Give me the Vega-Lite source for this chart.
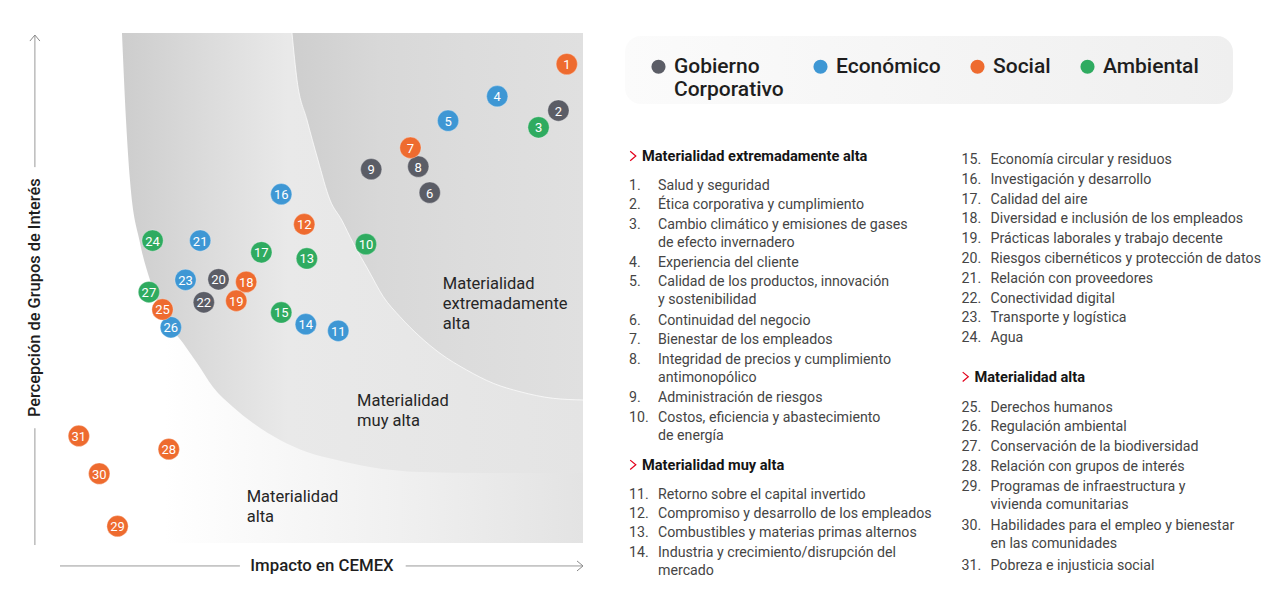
{
  "$schema": "https://vega.github.io/schema/vega-lite/v6.json",
  "width": 1280,
  "height": 613,
  "padding": 0,
  "autosize": "none",
  "background": "white",
  "config": {"view": {"stroke": null}, "font": "Roboto", "text": {"font": "Roboto"}},
  "datasets": {
    "temas": [
      {"n": 1, "tema": "Salud y seguridad", "cat": "Social", "impacto": 96.9, "percepcion": 93.9, "columna": "izquierda", "renglon": 1.5},
      {"n": 2, "tema": "Ética corporativa y cumplimiento", "cat": "Gobierno Corporativo", "impacto": 95.3, "percepcion": 84.8, "columna": "izquierda", "renglon": 2.5},
      {"n": 3, "tema": "Cambio climático y emisiones de gases\nde efecto invernadero", "cat": "Ambiental", "impacto": 91.5, "percepcion": 81.5, "columna": "izquierda", "renglon": 3.5},
      {"n": 4, "tema": "Experiencia del cliente", "cat": "Económico", "impacto": 83.6, "percepcion": 87.6, "columna": "izquierda", "renglon": 5.5},
      {"n": 5, "tema": "Calidad de los productos, innovación\ny sostenibilidad", "cat": "Económico", "impacto": 74.2, "percepcion": 82.8, "columna": "izquierda", "renglon": 6.5},
      {"n": 6, "tema": "Continuidad del negocio", "cat": "Gobierno Corporativo", "impacto": 70.7, "percepcion": 68.7, "columna": "izquierda", "renglon": 8.5},
      {"n": 7, "tema": "Bienestar de los empleados", "cat": "Social", "impacto": 67.0, "percepcion": 77.5, "columna": "izquierda", "renglon": 9.5},
      {"n": 8, "tema": "Integridad de precios y cumplimiento\nantimonopólico", "cat": "Gobierno Corporativo", "impacto": 68.5, "percepcion": 73.8, "columna": "izquierda", "renglon": 10.5},
      {"n": 9, "tema": "Administración de riesgos", "cat": "Gobierno Corporativo", "impacto": 59.5, "percepcion": 73.3, "columna": "izquierda", "renglon": 12.5},
      {"n": 10, "tema": "Costos, eficiencia y abastecimiento\nde energía", "cat": "Ambiental", "impacto": 58.5, "percepcion": 58.6, "columna": "izquierda", "renglon": 13.5},
      {"n": 11, "tema": "Retorno sobre el capital invertido", "cat": "Económico", "impacto": 53.2, "percepcion": 41.6, "columna": "izquierda", "renglon": 17.5},
      {"n": 12, "tema": "Compromiso y desarrollo de los empleados", "cat": "Social", "impacto": 46.7, "percepcion": 62.5, "columna": "izquierda", "renglon": 18.5},
      {"n": 13, "tema": "Combustibles y materias primas alternos", "cat": "Ambiental", "impacto": 47.2, "percepcion": 55.8, "columna": "izquierda", "renglon": 19.5},
      {"n": 14, "tema": "Industria y crecimiento/disrupción del\nmercado", "cat": "Económico", "impacto": 47.0, "percepcion": 42.9, "columna": "izquierda", "renglon": 20.5},
      {"n": 15, "tema": "Economía circular y residuos", "cat": "Ambiental", "impacto": 42.3, "percepcion": 45.2, "columna": "derecha", "renglon": 0},
      {"n": 16, "tema": "Investigación y desarrollo", "cat": "Económico", "impacto": 42.3, "percepcion": 68.4, "columna": "derecha", "renglon": 1},
      {"n": 17, "tema": "Calidad del aire", "cat": "Ambiental", "impacto": 38.5, "percepcion": 57.0, "columna": "derecha", "renglon": 2},
      {"n": 18, "tema": "Diversidad e inclusión de los empleados", "cat": "Social", "impacto": 35.6, "percepcion": 51.2, "columna": "derecha", "renglon": 3},
      {"n": 19, "tema": "Prácticas laborales y trabajo decente", "cat": "Social", "impacto": 33.7, "percepcion": 47.5, "columna": "derecha", "renglon": 4},
      {"n": 20, "tema": "Riesgos cibernéticos y protección de datos", "cat": "Gobierno Corporativo", "impacto": 30.3, "percepcion": 51.7, "columna": "derecha", "renglon": 5},
      {"n": 21, "tema": "Relación con proveedores", "cat": "Económico", "impacto": 26.8, "percepcion": 59.3, "columna": "derecha", "renglon": 6},
      {"n": 22, "tema": "Conectividad digital", "cat": "Gobierno Corporativo", "impacto": 27.5, "percepcion": 47.2, "columna": "derecha", "renglon": 7},
      {"n": 23, "tema": "Transporte y logística", "cat": "Económico", "impacto": 24.0, "percepcion": 51.6, "columna": "derecha", "renglon": 8},
      {"n": 24, "tema": "Agua", "cat": "Ambiental", "impacto": 17.7, "percepcion": 59.3, "columna": "derecha", "renglon": 9},
      {"n": 25, "tema": "Derechos humanos", "cat": "Social", "impacto": 19.6, "percepcion": 45.8, "columna": "derecha", "renglon": 12.5},
      {"n": 26, "tema": "Regulación ambiental", "cat": "Económico", "impacto": 21.2, "percepcion": 42.3, "columna": "derecha", "renglon": 13.5},
      {"n": 27, "tema": "Conservación de la biodiversidad", "cat": "Ambiental", "impacto": 17.0, "percepcion": 49.2, "columna": "derecha", "renglon": 14.5},
      {"n": 28, "tema": "Relación con grupos de interés", "cat": "Social", "impacto": 20.8, "percepcion": 18.4, "columna": "derecha", "renglon": 15.5},
      {"n": 29, "tema": "Programas de infraestructura y\nvivienda comunitarias", "cat": "Social", "impacto": 11.0, "percepcion": 3.3, "columna": "derecha", "renglon": 16.5},
      {"n": 30, "tema": "Habilidades para el empleo y bienestar\nen las comunidades", "cat": "Social", "impacto": 7.5, "percepcion": 13.6, "columna": "derecha", "renglon": 18.5},
      {"n": 31, "tema": "Pobreza e injusticia social", "cat": "Social", "impacto": 3.6, "percepcion": 21.0, "columna": "derecha", "renglon": 20.5}
    ],
    "niveles": [
      {"nivel": "Materialidad extremadamente alta", "etiqueta": "Materialidad\nextremadamente\nalta", "impacto": 73.2, "percepcion": 49.9, "columna": "izquierda", "renglon": 0},
      {"nivel": "Materialidad muy alta", "etiqueta": "Materialidad\nmuy alta", "impacto": 56.8, "percepcion": 26.9, "columna": "izquierda", "renglon": 16},
      {"nivel": "Materialidad alta", "etiqueta": "Materialidad\nalta", "impacto": 35.7, "percepcion": 8.0, "columna": "derecha", "renglon": 11}
    ],
    "curvas": [
      {"frontera": "muy alta", "impacto": 11.85, "percepcion": 100},
      {"frontera": "muy alta", "impacto": 12.62, "percepcion": 82.94},
      {"frontera": "muy alta", "impacto": 13.38, "percepcion": 71.18},
      {"frontera": "muy alta", "impacto": 15.3, "percepcion": 58.82},
      {"frontera": "muy alta", "impacto": 17.21, "percepcion": 51.57},
      {"frontera": "muy alta", "impacto": 19.69, "percepcion": 44.71},
      {"frontera": "muy alta", "impacto": 23.52, "percepcion": 39.22},
      {"frontera": "muy alta", "impacto": 26.2, "percepcion": 35.29},
      {"frontera": "muy alta", "impacto": 29.25, "percepcion": 30.59},
      {"frontera": "muy alta", "impacto": 33.08, "percepcion": 26.67},
      {"frontera": "muy alta", "impacto": 36.9, "percepcion": 23.53},
      {"frontera": "muy alta", "impacto": 42.07, "percepcion": 20.2},
      {"frontera": "muy alta", "impacto": 47.23, "percepcion": 17.84},
      {"frontera": "muy alta", "impacto": 52.96, "percepcion": 16.27},
      {"frontera": "muy alta", "impacto": 59.27, "percepcion": 14.9},
      {"frontera": "muy alta", "impacto": 68.83, "percepcion": 13.92},
      {"frontera": "muy alta", "impacto": 81.64, "percepcion": 13.73},
      {"frontera": "muy alta", "impacto": 100, "percepcion": 13.73},
      {"frontera": "extremadamente alta", "impacto": 44.36, "percepcion": 100},
      {"frontera": "extremadamente alta", "impacto": 45.32, "percepcion": 90.78},
      {"frontera": "extremadamente alta", "impacto": 47.23, "percepcion": 82.94},
      {"frontera": "extremadamente alta", "impacto": 49.33, "percepcion": 75.1},
      {"frontera": "extremadamente alta", "impacto": 51.63, "percepcion": 67.25},
      {"frontera": "extremadamente alta", "impacto": 53.86, "percepcion": 63.33},
      {"frontera": "extremadamente alta", "impacto": 56.08, "percepcion": 58.76},
      {"frontera": "extremadamente alta", "impacto": 58.95, "percepcion": 53.53},
      {"frontera": "extremadamente alta", "impacto": 61.82, "percepcion": 48.29},
      {"frontera": "extremadamente alta", "impacto": 65.01, "percepcion": 44.37},
      {"frontera": "extremadamente alta", "impacto": 68.83, "percepcion": 40.45},
      {"frontera": "extremadamente alta", "impacto": 72.66, "percepcion": 37.2},
      {"frontera": "extremadamente alta", "impacto": 77.76, "percepcion": 33.92},
      {"frontera": "extremadamente alta", "impacto": 82.85, "percepcion": 31.31},
      {"frontera": "extremadamente alta", "impacto": 87.95, "percepcion": 29.67},
      {"frontera": "extremadamente alta", "impacto": 94.32, "percepcion": 28.37},
      {"frontera": "extremadamente alta", "impacto": 100, "percepcion": 28.04}
    ]
  },
  "layer": [
    {
      "layer": [
        {
          "data": {"values": [{}]},
          "mark": {"type": "rect", "fill": {"gradient": "linear", "x1": 0, "y1": 0, "x2": 1, "y2": 0, "stops": [{"offset": 0, "color": "#ffffff"}, {"offset": 0.2, "color": "#ffffff"}, {"offset": 0.65, "color": "#f0f0f0"}, {"offset": 1, "color": "#e3e3e3"}]}},
          "encoding": {
            "x": {"datum": 0, "type": "quantitative", "scale": {"domain": [0, 100], "range": [60, 583], "nice": false}, "axis": null},
            "x2": {"datum": 100},
            "y": {"datum": 0, "type": "quantitative", "scale": {"domain": [0, 100], "range": [543, 33], "nice": false}, "axis": null},
            "y2": {"datum": 100}
          }
        },
        {
          "data": {"name": "curvas"},
          "transform": [{"filter": "datum.frontera == 'muy alta'"}],
          "mark": {"type": "area", "interpolate": "monotone", "fill": {"gradient": "linear", "x1": 0, "y1": 0, "x2": 1, "y2": 0, "stops": [{"offset": 0, "color": "#cdcdcd"}, {"offset": 0.36, "color": "#e9e9e9"}, {"offset": 1, "color": "#e4e4e4"}]}},
          "encoding": {
            "x": {"field": "impacto", "type": "quantitative"},
            "y": {"field": "percepcion", "type": "quantitative"},
            "y2": {"datum": 100}
          }
        },
        {
          "data": {"name": "curvas"},
          "transform": [{"filter": "datum.frontera == 'extremadamente alta'"}],
          "mark": {"type": "area", "interpolate": "monotone", "fill": {"gradient": "linear", "x1": 0, "y1": 0, "x2": 1, "y2": 0, "stops": [{"offset": 0, "color": "#cecece"}, {"offset": 0.3, "color": "#d8d8d8"}, {"offset": 0.6, "color": "#dcdcdc"}, {"offset": 1, "color": "#e0e0e0"}]}},
          "encoding": {
            "x": {"field": "impacto", "type": "quantitative"},
            "y": {"field": "percepcion", "type": "quantitative"},
            "y2": {"datum": 100}
          }
        },
        {
          "data": {"name": "curvas"},
          "transform": [{"filter": "datum.frontera == 'extremadamente alta'"}],
          "mark": {"type": "line", "interpolate": "monotone", "color": "#ffffff", "strokeWidth": 1, "opacity": 0.7},
          "encoding": {
            "x": {"field": "impacto", "type": "quantitative"},
            "y": {"field": "percepcion", "type": "quantitative"}
          }
        },
        {
          "data": {"values": [{}]},
          "mark": {"type": "rule", "color": "#9a9a9a", "strokeWidth": 1},
          "encoding": {"x": {"datum": 0, "type": "quantitative"}, "x2": {"datum": 34.4}, "y": {"datum": -4.5, "type": "quantitative"}}
        },
        {
          "data": {"values": [{}]},
          "mark": {"type": "rule", "color": "#9a9a9a", "strokeWidth": 1},
          "encoding": {"x": {"datum": 66.1, "type": "quantitative"}, "x2": {"datum": 100}, "y": {"datum": -4.5, "type": "quantitative"}}
        },
        {
          "data": {"values": [{}]},
          "mark": {"type": "rule", "color": "#9a9a9a", "strokeWidth": 1},
          "encoding": {"x": {"datum": -4.8, "type": "quantitative"}, "y": {"datum": 73.7, "type": "quantitative"}, "y2": {"datum": 99.6}}
        },
        {
          "data": {"values": [{}]},
          "mark": {"type": "rule", "color": "#9a9a9a", "strokeWidth": 1},
          "encoding": {"x": {"datum": -4.8, "type": "quantitative"}, "y": {"datum": -0.4, "type": "quantitative"}, "y2": {"datum": 22.5}}
        },
        {
          "data": {"values": [{}]},
          "mark": {"type": "point", "shape": "M-1.2,-1L0,0L-1.2,1", "size": 100, "filled": false, "stroke": "#8a8a8a", "strokeWidth": 1, "opacity": 1},
          "encoding": {"x": {"datum": 100, "type": "quantitative"}, "y": {"datum": -4.5, "type": "quantitative"}}
        },
        {
          "data": {"values": [{}]},
          "mark": {"type": "point", "shape": "M-1,1.2L0,0L1,1.2", "size": 100, "filled": false, "stroke": "#8a8a8a", "strokeWidth": 1, "opacity": 1},
          "encoding": {"x": {"datum": -4.8, "type": "quantitative"}, "y": {"datum": 99.6, "type": "quantitative"}}
        },
        {
          "data": {"values": [{}]},
          "mark": {"type": "text", "text": "Impacto en CEMEX", "fontSize": 16.8, "fontWeight": 500, "color": "#1e1e1e", "align": "center", "baseline": "middle"},
          "encoding": {"x": {"datum": 50.1, "type": "quantitative"}, "y": {"datum": -4.5, "type": "quantitative"}}
        },
        {
          "data": {"values": [{}]},
          "mark": {"type": "text", "text": "Percepción de Grupos de Interés", "fontSize": 16.4, "fontWeight": 500, "color": "#1e1e1e", "align": "center", "baseline": "middle", "angle": 270},
          "encoding": {"x": {"datum": -4.8, "type": "quantitative"}, "y": {"datum": 48.1, "type": "quantitative"}}
        },
        {
          "data": {"name": "niveles"},
          "mark": {"type": "text", "align": "left", "baseline": "alphabetic", "lineBreak": "\n", "lineHeight": 20, "fontSize": 16.5, "color": "#262626"},
          "encoding": {
            "x": {"field": "impacto", "type": "quantitative"},
            "y": {"field": "percepcion", "type": "quantitative"},
            "text": {"field": "etiqueta", "type": "nominal"}
          }
        },
        {
          "data": {"name": "temas"},
          "mark": {"type": "circle", "size": 452, "opacity": 1, "stroke": "#ffffff", "strokeWidth": 0.6, "strokeOpacity": 0.5},
          "encoding": {
            "x": {"field": "impacto", "type": "quantitative"},
            "y": {"field": "percepcion", "type": "quantitative"},
            "order": {"field": "n", "type": "quantitative", "sort": "descending"},
            "color": {
              "field": "cat", "type": "nominal",
              "scale": {"domain": ["Gobierno Corporativo", "Económico", "Social", "Ambiental"], "range": ["#5b5d66", "#3e97d4", "#ee6b2f", "#2fab60"]},
              "legend": {
                "title": null, "orient": "none", "legendX": 636, "legendY": 44, "direction": "horizontal",
                "padding": 12,
                "symbolType": "circle", "symbolSize": 200, "symbolStrokeWidth": 0, "symbolOpacity": 1, "symbolOffset": 0,
                "labelFont": "Roboto", "labelFontSize": 21, "labelFontWeight": 500, "labelColor": "#1e1e1e",
                "labelOffset": 5, "columnPadding": 26, "labelLimit": 300,
                "labelExpr": "datum.label == 'Gobierno Corporativo' ? ['Gobierno', 'Corporativo'] : [datum.label, ' ']"
              }
            }
          }
        },
        {
          "data": {"name": "temas"},
          "mark": {"type": "text", "color": "#ffffff", "fontSize": 13, "align": "center", "baseline": "middle", "dy": 1},
          "encoding": {
            "x": {"field": "impacto", "type": "quantitative"},
            "y": {"field": "percepcion", "type": "quantitative"},
            "order": {"field": "n", "type": "quantitative", "sort": "descending"},
            "text": {"field": "n", "type": "quantitative"}
          }
        }
      ]
    },
    {
      "data": {"values": [{}]},
      "mark": {"type": "rect", "cornerRadius": 16, "fill": {"gradient": "linear", "x1": 0, "y1": 0, "x2": 1, "y2": 0, "stops": [{"offset": 0, "color": "#fbfbfb"}, {"offset": 1, "color": "#efefef"}]}},
      "encoding": {
        "x": {"datum": 0, "type": "quantitative", "scale": {"domain": [0, 1], "range": [625, 1233], "nice": false}, "axis": null},
        "x2": {"datum": 1},
        "y": {"datum": 0, "type": "quantitative", "scale": {"domain": [0, 1], "range": [36, 104], "nice": false}, "axis": null},
        "y2": {"datum": 1}
      }
    },
    {
      "layer": [
        {
          "data": {"name": "temas"},
          "transform": [{"filter": "datum.columna == 'izquierda'"}],
          "mark": {"type": "text", "text": {"expr": "datum.n + '.'"}, "align": "left", "baseline": "alphabetic", "dy": 5, "fontSize": 14.2, "color": "#454545"},
          "encoding": {
            "x": {"field": "columna", "type": "nominal", "scale": {"type": "point", "domain": ["izquierda", "derecha"], "range": [629, 961.5], "padding": 0}, "axis": null},
            "y": {"field": "renglon", "type": "quantitative", "scale": {"domain": [0, 21.5], "range": [156, 570.95], "nice": false, "zero": false}, "axis": null}
          }
        },
        {
          "data": {"name": "temas"},
          "transform": [{"filter": "datum.columna == 'izquierda'"}],
          "mark": {"type": "text", "align": "left", "baseline": "alphabetic", "dy": 5, "dx": 29, "lineBreak": "\n", "lineHeight": 18, "fontSize": 14.2, "color": "#454545"},
          "encoding": {
            "x": {"field": "columna", "type": "nominal"},
            "y": {"field": "renglon", "type": "quantitative"},
            "text": {"field": "tema", "type": "nominal"}
          }
        },
        {
          "data": {"name": "niveles"},
          "transform": [{"filter": "datum.columna == 'izquierda'"}],
          "mark": {"type": "text", "align": "left", "baseline": "alphabetic", "dy": 5, "dx": 13, "fontSize": 14.6, "fontWeight": "bold", "color": "#151515"},
          "encoding": {
            "x": {"field": "columna", "type": "nominal"},
            "y": {"field": "renglon", "type": "quantitative"},
            "text": {"field": "nivel", "type": "nominal"}
          }
        },
        {
          "data": {"name": "niveles"},
          "transform": [{"filter": "datum.columna == 'izquierda'"}],
          "mark": {"type": "point", "shape": "M-0.6,-1L0.6,0L-0.6,1", "size": 88, "filled": false, "stroke": "#e3001b", "strokeWidth": 1.2, "opacity": 1, "xOffset": 4},
          "encoding": {
            "x": {"field": "columna", "type": "nominal"},
            "y": {"field": "renglon", "type": "quantitative"}
          }
        }
      ]
    },
    {
      "layer": [
        {
          "data": {"name": "temas"},
          "transform": [{"filter": "datum.columna == 'derecha'"}],
          "mark": {"type": "text", "text": {"expr": "datum.n + '.'"}, "align": "left", "baseline": "alphabetic", "dy": 5, "fontSize": 14.2, "color": "#454545"},
          "encoding": {
            "x": {"field": "columna", "type": "nominal", "scale": {"type": "point", "domain": ["izquierda", "derecha"], "range": [629, 961.5], "padding": 0}, "axis": null},
            "y": {"field": "renglon", "type": "quantitative", "scale": {"domain": [0, 20.5], "range": [159, 564.9], "nice": false, "zero": false}, "axis": null}
          }
        },
        {
          "data": {"name": "temas"},
          "transform": [{"filter": "datum.columna == 'derecha'"}],
          "mark": {"type": "text", "align": "left", "baseline": "alphabetic", "dy": 5, "dx": 29, "lineBreak": "\n", "lineHeight": 18, "fontSize": 14.2, "color": "#454545"},
          "encoding": {
            "x": {"field": "columna", "type": "nominal"},
            "y": {"field": "renglon", "type": "quantitative"},
            "text": {"field": "tema", "type": "nominal"}
          }
        },
        {
          "data": {"name": "niveles"},
          "transform": [{"filter": "datum.columna == 'derecha'"}],
          "mark": {"type": "text", "align": "left", "baseline": "alphabetic", "dy": 5, "dx": 13, "fontSize": 14.6, "fontWeight": "bold", "color": "#151515"},
          "encoding": {
            "x": {"field": "columna", "type": "nominal"},
            "y": {"field": "renglon", "type": "quantitative"},
            "text": {"field": "nivel", "type": "nominal"}
          }
        },
        {
          "data": {"name": "niveles"},
          "transform": [{"filter": "datum.columna == 'derecha'"}],
          "mark": {"type": "point", "shape": "M-0.6,-1L0.6,0L-0.6,1", "size": 88, "filled": false, "stroke": "#e3001b", "strokeWidth": 1.2, "opacity": 1, "xOffset": 4},
          "encoding": {
            "x": {"field": "columna", "type": "nominal"},
            "y": {"field": "renglon", "type": "quantitative"}
          }
        }
      ]
    }
  ],
  "resolve": {"scale": {"x": "independent", "y": "independent"}}
}
